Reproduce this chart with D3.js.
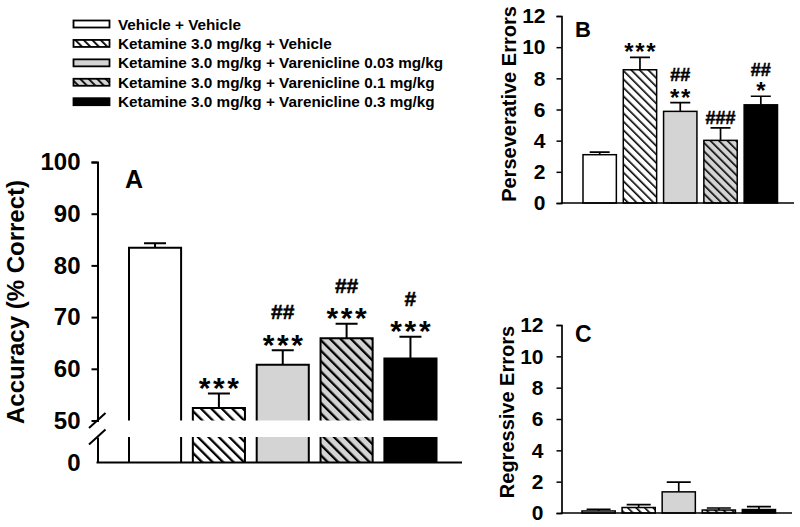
<!DOCTYPE html>
<html><head><meta charset="utf-8">
<script src="https://cdn.jsdelivr.net/npm/d3@7"></script>
<style>
body{margin:0;background:#fff}
svg{display:block}
text{font-family:"Liberation Sans",Arial,sans-serif;font-weight:bold;fill:#000}
</style>
</head><body>
<svg id="chart" width="800" height="527"></svg>
<script>
// ---------- data ----------
const groups = [
  "Vehicle + Vehicle",
  "Ketamine 3.0 mg/kg + Vehicle",
  "Ketamine 3.0 mg/kg + Varenicline 0.03 mg/kg",
  "Ketamine 3.0 mg/kg + Varenicline 0.1 mg/kg",
  "Ketamine 3.0 mg/kg + Varenicline 0.3 mg/kg"
];
const accuracy    = [83.4, 52.4, 60.8, 65.9, 62.0];
const accuracyErr = [0.9, 2.8, 2.8, 2.8, 4.2];
const accStars    = ["", "***", "***", "***", "***"];
const accHashes   = ["", "", "##", "##", "#"];
const accTicks    = [50, 60, 70, 80, 90, 100];

const persev      = [3.1, 8.55, 5.88, 4.02, 6.3];
const persevErr   = [0.17, 0.8, 0.56, 0.8, 0.55];
const perStars    = ["", "***", "**", "", "*"];
const perHashes   = ["", "", "##", "###", "##"];

const regress     = [0.13, 0.35, 1.35, 0.19, 0.22];
const regressErr  = [0.11, 0.19, 0.62, 0.13, 0.19];
const errTicks    = [0, 2, 4, 6, 8, 10, 12];

// ---------- setup ----------
const svg = d3.select("#chart");
const defs = svg.append("defs");
const GRAY = "#d4d4d4";

function hatch(id, bg, spacing, lw){
  const p = defs.append("pattern").attr("id", id)
    .attr("patternUnits", "userSpaceOnUse")
    .attr("width", spacing).attr("height", spacing)
    .attr("patternTransform", "rotate(-45)");
  p.append("rect").attr("width", spacing).attr("height", spacing).attr("fill", bg);
  p.append("rect").attr("x", 0).attr("y", 0).attr("width", lw).attr("height", spacing).attr("fill", "#000");
}
hatch("hwA", "#fff", 7.4, 2.3);
hatch("hgA", GRAY, 7.4, 2.3);
hatch("hwB", "#fff", 6, 1.6);
hatch("hgB", GRAY, 6, 1.6);
hatch("hwL", "#fff", 6, 1.8);
hatch("hgL", GRAY, 6, 1.8);

const fillA = ["#fff", "url(#hwA)", GRAY, "url(#hgA)", "#000"];
const fillB = ["#fff", "url(#hwB)", GRAY, "url(#hgB)", "#000"];
const fillL = ["#fff", "url(#hwL)", GRAY, "url(#hgL)", "#000"];

function sigMarks(g, x, yTop, stars, hashes, o){
  if(!stars && !hashes) return;
  const t = g.append("text").attr("text-anchor", "middle");
  const starCy = yTop - o.starOff;
  const hashCy = stars ? yTop - o.starOff - (stars.length > 1 ? o.hashGap : o.hashGap1) : starCy;
  if(hashes){
    t.append("tspan").attr("x", x).attr("y", hashCy + 0.35 * o.hashFs)
      .style("font-size", o.hashFs + "px").style("stroke", "#000").style("stroke-width", "0.5px").text(hashes);
  }
  if(stars){
    t.append("tspan").attr("x", x + o.starLs / 2).attr("y", starCy + 0.57 * o.starFs)
      .style("font-size", o.starFs + "px").style("letter-spacing", o.starLs + "px").text(stars);
  }
}

// ---------- legend ----------
const legY = d3.scalePoint().domain(groups).range([24, 101.7]);
const leg = svg.append("g");
groups.forEach((gname, i) => {
  leg.append("rect").attr("x", 73.5).attr("y", legY(gname) - 3.5)
    .attr("width", 36).attr("height", 7)
    .attr("fill", fillL[i]).attr("stroke", "#000").attr("stroke-width", 1.8);
  leg.append("text").attr("x", 118).attr("y", legY(gname)).attr("dy", "0.36em")
    .style("font-size", "15.3px").text(gname);
});

// ---------- panel A (broken axis) ----------
const A = {ax: 97.5, top: 162, brk: 420.5, low: 437, base: 462.5, xEnd: 462};
const xA = d3.scaleBand().domain(groups).range([129, 436.5]).paddingInner(0.184).paddingOuter(0);
const yU = d3.scaleLinear().domain([50, 100]).range([A.brk, A.top]);
const yL = d3.scaleLinear().domain([0, 50]).range([A.base, A.low]);
const gA = svg.append("g");

groups.forEach((gname, i) => {
  const x = xA(gname), w = xA.bandwidth(), v = accuracy[i];
  gA.append("rect").attr("x", x).attr("y", yU(v)).attr("width", w).attr("height", yU(50) - yU(v)).attr("fill", fillA[i]);
  gA.append("rect").attr("x", x).attr("y", yL(50)).attr("width", w).attr("height", yL(0) - yL(50)).attr("fill", fillA[i]);
  const p = d3.path();
  p.moveTo(x, yU(50)); p.lineTo(x, yU(v)); p.lineTo(x + w, yU(v)); p.lineTo(x + w, yU(50));
  p.moveTo(x, yL(50)); p.lineTo(x, yL(0));
  p.moveTo(x + w, yL(50)); p.lineTo(x + w, yL(0));
  gA.append("path").attr("d", p.toString()).attr("fill", "none").attr("stroke", "#000").attr("stroke-width", 2);
  const cx = x + w / 2, e = v + accuracyErr[i];
  gA.append("path").attr("d", `M${cx},${yU(v)}V${yU(e)}M${cx - 11},${yU(e)}H${cx + 11}`)
    .attr("fill", "none").attr("stroke", "#000").attr("stroke-width", 2);
  sigMarks(gA, cx, yU(e), accStars[i], accHashes[i],
    {starOff: 12.5, hashGap: 26, hashGap1: 26, starFs: 30, starLs: 2.6, hashFs: 21});
});

const axU = gA.append("g").attr("transform", `translate(${A.ax},0)`)
  .call(d3.axisLeft(yU).tickValues(accTicks).tickSizeOuter(0).tickSize(6).tickPadding(11));
axU.selectAll(".tick").filter(d => d === 50).select("line").remove();
const axL = gA.append("g").attr("transform", `translate(${A.ax},0)`)
  .call(d3.axisLeft(yL).tickValues([0]).tickSizeOuter(0).tickSize(0).tickPadding(17));
[axU, axL].forEach(ax => {
  ax.attr("font-size", null).attr("font-family", null);
  ax.select(".domain").attr("stroke-width", 2);
  ax.selectAll(".tick line").attr("stroke-width", 2);
  ax.selectAll(".tick text").style("font-size", "24px");
});
[yU(50), yL(50)].forEach(yy => {
  gA.append("line").attr("x1", A.ax - 8.5).attr("y1", yy + 7.5).attr("x2", A.ax + 8).attr("y2", yy - 7.5)
    .attr("stroke", "#000").attr("stroke-width", 2);
});
gA.append("line").attr("x1", A.ax - 1).attr("x2", A.xEnd).attr("y1", A.base).attr("y2", A.base)
  .attr("stroke", "#000").attr("stroke-width", 2);
gA.append("text").attr("x", 24).attr("y", 302).attr("transform", "rotate(-90,24,302)")
  .attr("text-anchor", "middle").style("font-size", "24px").text("Accuracy (% Correct)");
gA.append("text").attr("x", 134).attr("y", 188).attr("text-anchor", "middle").style("font-size", "25px").text("A");

// ---------- panels B & C ----------
function errPanel(cfg){
  const g = svg.append("g");
  const x = d3.scaleBand().domain(groups).range(cfg.xr).paddingInner(0.172).paddingOuter(0);
  const y = d3.scaleLinear().domain([0, 12]).range([cfg.y0, cfg.y12]);
  groups.forEach((gname, i) => {
    const bx = x(gname), w = x.bandwidth(), v = cfg.vals[i];
    g.append("rect").attr("x", bx).attr("y", y(v)).attr("width", w).attr("height", y(0) - y(v))
      .attr("fill", fillB[i]).attr("stroke", "#000").attr("stroke-width", 1.5);
    const cx = bx + w / 2, e = v + cfg.errs[i];
    g.append("path").attr("d", `M${cx},${y(v)}V${y(e)}M${cx - cfg.cap},${y(e)}H${cx + cfg.cap}`)
      .attr("fill", "none").attr("stroke", "#000").attr("stroke-width", 1.7);
    if(cfg.stars){
      sigMarks(g, cx, y(e), cfg.stars[i], cfg.hashes[i],
        {starOff: 10.5, hashGap: 17, hashGap1: 16, starFs: 24, starLs: 1.6, hashFs: 18});
    }
  });
  const ax = g.append("g").attr("transform", `translate(${cfg.ax},0)`)
    .call(d3.axisLeft(y).tickValues(errTicks).tickSizeOuter(0).tickSize(5).tickPadding(cfg.pad));
  ax.attr("font-size", null).attr("font-family", null);
  ax.select(".domain").attr("stroke-width", 1.7);
  ax.selectAll(".tick line").attr("stroke-width", 1.5);
  ax.selectAll(".tick text").style("font-size", "21px");
  g.append("line").attr("x1", cfg.ax - 0.8).attr("x2", cfg.xEnd).attr("y1", y(0)).attr("y2", y(0))
    .attr("stroke", "#000").attr("stroke-width", 1.7);
  g.append("text").attr("x", cfg.lx).attr("y", cfg.ly).attr("transform", `rotate(-90,${cfg.lx},${cfg.ly})`)
    .attr("text-anchor", "middle").style("font-size", "20px").text(cfg.label);
  g.append("text").attr("x", 575).attr("y", y(12) + cfg.letterDy).style("font-size", cfg.letterFs + "px").text(cfg.letter);
}

errPanel({vals: persev, errs: persevErr, stars: perStars, hashes: perHashes,
  xr: [583, 777.5], y0: 203, y12: 16, ax: 561.5, xEnd: 794, cap: 10, pad: 11,
  lx: 516, ly: 104, label: "Perseverative Errors", letter: "B", letterDy: 21, letterFs: 22});
errPanel({vals: regress, errs: regressErr, stars: null, hashes: null,
  xr: [582, 775.5], y0: 513, y12: 325, ax: 561.5, xEnd: 792, cap: 12, pad: 13,
  lx: 514, ly: 412, label: "Regressive Errors", letter: "C", letterDy: 17, letterFs: 23});
</script>
</body></html>
